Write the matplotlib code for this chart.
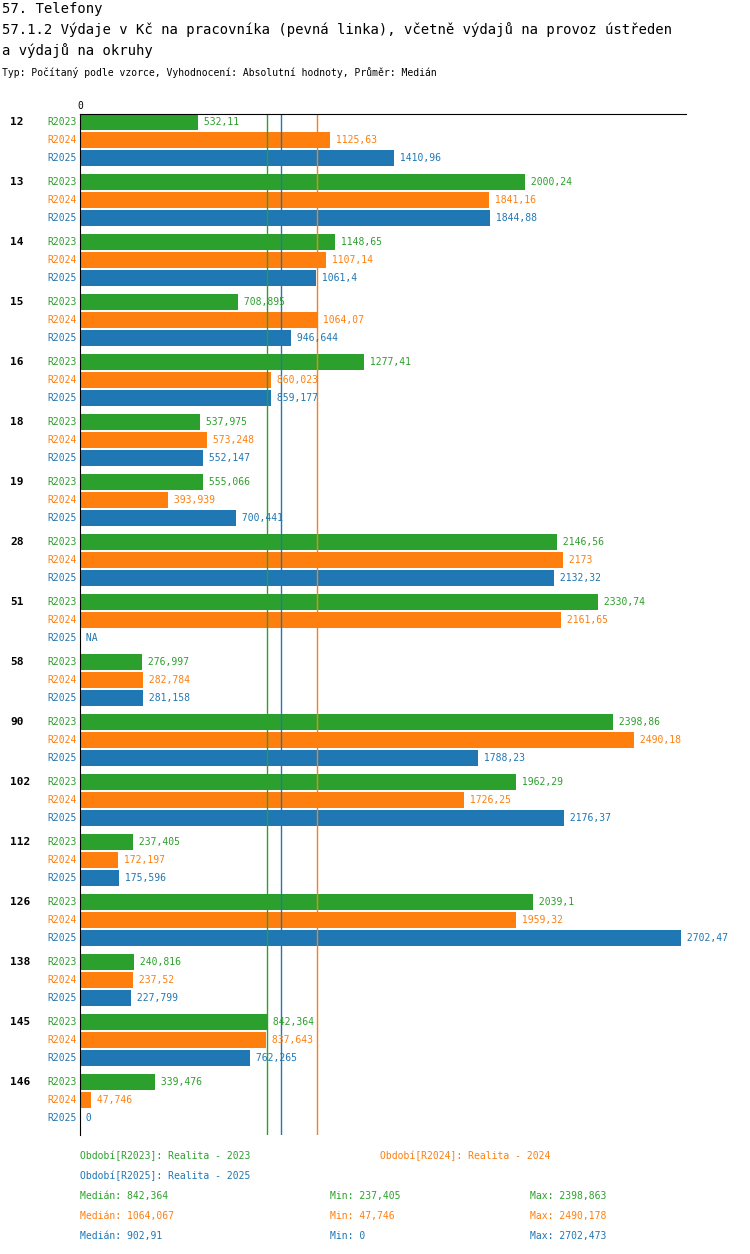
import matplotlib
matplotlib.use("Agg")
import matplotlib.pyplot as plt
import numpy as np

groups = ["12", "13", "14", "15", "16", "18", "19", "28", "51", "58", "90", "102", "112", "126", "138", "145", "146"]
series = ["R2023", "R2024", "R2025"]
colors = ["#2ca02c", "#ff7f0e", "#1f77b4"]
r2023 = [532.11, 2000.238, 1148.649, 708.895, 1277.407, 537.975, 555.066, 2146.558, 2330.739, 276.997, 2398.863, 1962.287, 237.405, 2039.1, 240.816, 842.364, 339.476]
r2024 = [1125.635, 1841.162, 1107.143, 1064.067, 860.023, 573.248, 393.939, 2173.002, 2161.654, 282.784, 2490.178, 1726.253, 172.197, 1959.321, 237.52, 837.643, 47.746]
r2025 = [1410.961, 1844.882, 1061.404, 946.644, 859.177, 552.147, 700.441, 2132.316, None, 281.158, 1788.235, 2176.373, 175.596, 2702.473, 227.799, 762.265, 0]
medians = [842.364, 1064.067, 902.91]
mins = ["237,405", "47,746", "0"]
maxs = ["2398,863", "2490,178", "2702,473"]
med_txt = ["842,364", "1064,067", "902,91"]

W, H = 750, 1254
fig = plt.figure(figsize=(W / 100, H / 100), dpi=100)
font = "DejaVu Sans Mono"
plt.rcParams["font.family"] = font

top, bottom, left, right = 114, 1135, 80, 686
ax = fig.add_axes([left / W, 1 - bottom / H, (right - left) / W, (bottom - top) / H])
ax.set_xlim(0, 606 * 2702.473 / 601)
ax.set_ylim(bottom, top)
for s in ["right", "bottom"]:
    ax.spines[s].set_visible(False)
ax.set_xticks([0])
ax.xaxis.tick_top()
ax.tick_params(axis="x", length=0, labelsize=7, pad=2)
ax.set_yticks([])

data = [r2023, r2024, r2025]
ytr = ax.get_yaxis_transform()
for g, name in enumerate(groups):
    y0 = top + 8 + 60 * g
    ax.text(-70 / 606, y0, name, transform=ytr, ha="left", va="center", fontsize=8, fontweight="bold")
    for k in range(3):
        y = y0 + 18 * k
        v = data[k][g]
        ax.text(-3 / 606, y, series[k], transform=ytr, ha="right", va="center", fontsize=7, color=colors[k])
        if v is None:
            ax.text(v if v else 0, y, " NA", ha="left", va="center", fontsize=7, color=colors[k])
            continue
        ax.barh(y, v, height=16, color=colors[k])
        lab = ("%g" % v).replace(".", ",")
        ax.text(v, y, " " + lab, ha="left", va="center", fontsize=7, color=colors[k])

for k in range(3):
    ax.axvline(medians[k], color=colors[k], lw=1)

fig.text(2 / W, 1 - 9 / H, "57. Telefony", fontsize=10, va="center")
fig.text(2 / W, 1 - 30 / H, "57.1.2 Výdaje v Kč na pracovníka (pevná linka), včetně výdajů na provoz ústředen", fontsize=10, va="center")
fig.text(2 / W, 1 - 51 / H, "a výdajů na okruhy", fontsize=10, va="center")
fig.text(2 / W, 1 - 73 / H, "Typ: Počítaný podle vzorce, Vyhodnocení: Absolutní hodnoty, Průměr: Medián", fontsize=7, va="center")

fs = 7
fig.text(80 / W, 1 - 1156 / H, "Období[R2023]: Realita - 2023", color=colors[0], fontsize=fs, va="center")
fig.text(380 / W, 1 - 1156 / H, "Období[R2024]: Realita - 2024", color=colors[1], fontsize=fs, va="center")
fig.text(80 / W, 1 - 1176 / H, "Období[R2025]: Realita - 2025", color=colors[2], fontsize=fs, va="center")
for k in range(3):
    yy = 1 - (1196 + 20 * k) / H
    fig.text(80 / W, yy, "Medián: " + med_txt[k], color=colors[k], fontsize=fs, va="center")
    fig.text(330 / W, yy, "Min: " + mins[k], color=colors[k], fontsize=fs, va="center")
    fig.text(530 / W, yy, "Max: " + maxs[k], color=colors[k], fontsize=fs, va="center")

fig.savefig("out.png", dpi=100)
